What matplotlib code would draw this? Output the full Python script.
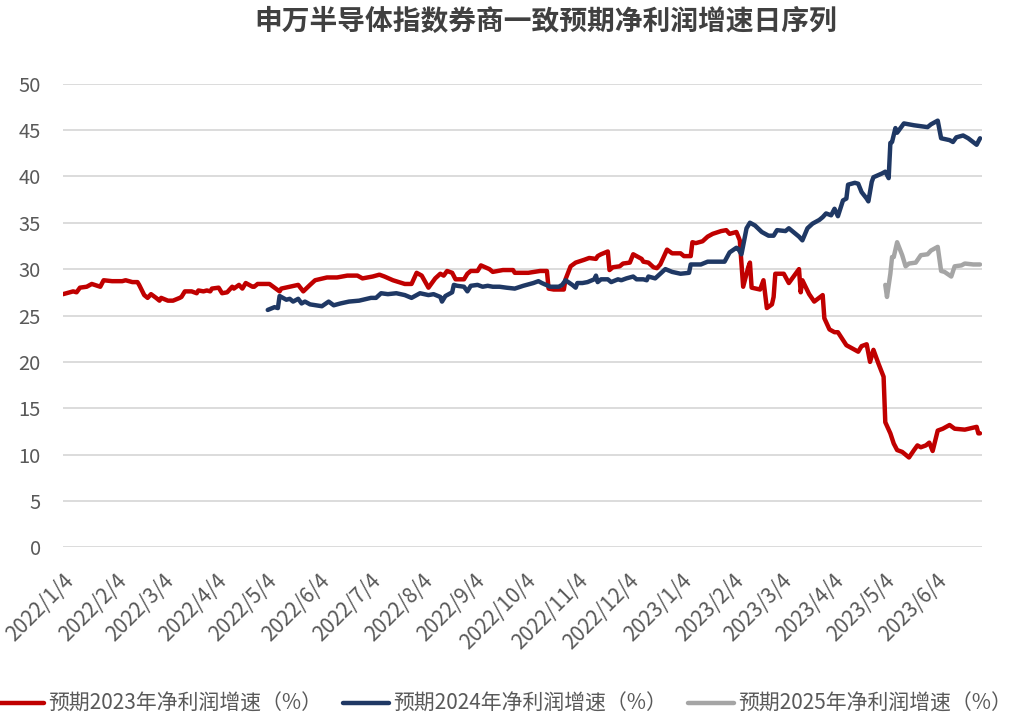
import pandas as pd
import matplotlib
matplotlib.use("Agg")
import matplotlib.pyplot as plt
import matplotlib.dates as mdates
from matplotlib.ticker import FuncFormatter, MultipleLocator

plt.rcParams['font.family'] = ['Noto Sans CJK SC', 'DejaVu Sans']

title = "申万半导体指数券商一致预期净利润增速日序列"
names = ["预期2023年净利润增速（%）", "预期2024年净利润增速（%）", "预期2025年净利润增速（%）"]

# 2023年预期
d23 = ["2022-01-04", "2022-01-10", "2022-01-12", "2022-01-14", "2022-01-18", "2022-01-21",
       "2022-01-26", "2022-01-28", "2022-02-02", "2022-02-08", "2022-02-10", "2022-02-14",
       "2022-02-17", "2022-02-18", "2022-02-21", "2022-02-23", "2022-02-25", "2022-02-28",
       "2022-03-02", "2022-03-03", "2022-03-07", "2022-03-10", "2022-03-14", "2022-03-15",
       "2022-03-17", "2022-03-21", "2022-03-24", "2022-03-25", "2022-03-28", "2022-03-30",
       "2022-04-01", "2022-04-02", "2022-04-06", "2022-04-08", "2022-04-11", "2022-04-14",
       "2022-04-15", "2022-04-18", "2022-04-20", "2022-04-22", "2022-04-26", "2022-04-27",
       "2022-04-29", "2022-05-06", "2022-05-09", "2022-05-12", "2022-05-13", "2022-05-18",
       "2022-05-23", "2022-05-26", "2022-05-30", "2022-06-02", "2022-06-09", "2022-06-15",
       "2022-06-21", "2022-06-27", "2022-06-30", "2022-07-06", "2022-07-10", "2022-07-13",
       "2022-07-18", "2022-07-25", "2022-07-29", "2022-08-01", "2022-08-04", "2022-08-08",
       "2022-08-12", "2022-08-15", "2022-08-17", "2022-08-19", "2022-08-22", "2022-08-24",
       "2022-08-29", "2022-08-31", "2022-09-02", "2022-09-06", "2022-09-08", "2022-09-13",
       "2022-09-15", "2022-09-21", "2022-09-27", "2022-09-28", "2022-10-06", "2022-10-13",
       "2022-10-17", "2022-10-18", "2022-10-21", "2022-10-27", "2022-10-28", "2022-10-31",
       "2022-11-03", "2022-11-08", "2022-11-11", "2022-11-15", "2022-11-16", "2022-11-18",
       "2022-11-22", "2022-11-23", "2022-11-25", "2022-11-29", "2022-12-01", "2022-12-05",
       "2022-12-07", "2022-12-12", "2022-12-13", "2022-12-16", "2022-12-19", "2022-12-21",
       "2022-12-23", "2022-12-27", "2022-12-30", "2023-01-04", "2023-01-06", "2023-01-10",
       "2023-01-11", "2023-01-13", "2023-01-17", "2023-01-20", "2023-01-23", "2023-01-28",
       "2023-01-31", "2023-02-02", "2023-02-06", "2023-02-08", "2023-02-10", "2023-02-13",
       "2023-02-14", "2023-02-15", "2023-02-20", "2023-02-22", "2023-02-24", "2023-02-27",
       "2023-02-28", "2023-03-01", "2023-03-06", "2023-03-09", "2023-03-13", "2023-03-15",
       "2023-03-16", "2023-03-17", "2023-03-21", "2023-03-24", "2023-03-29", "2023-03-30",
       "2023-04-02", "2023-04-05", "2023-04-07", "2023-04-12", "2023-04-17", "2023-04-19",
       "2023-04-21", "2023-04-24", "2023-04-26", "2023-04-28", "2023-05-01", "2023-05-04",
       "2023-05-05", "2023-05-08", "2023-05-10", "2023-05-12", "2023-05-15", "2023-05-17",
       "2023-05-19", "2023-05-22", "2023-05-24", "2023-05-26", "2023-05-29", "2023-05-31",
       "2023-06-02", "2023-06-05", "2023-06-08", "2023-06-12", "2023-06-15", "2023-06-21",
       "2023-06-28", "2023-06-29", "2023-06-30"]
v23 = [27.3, 27.6, 27.5, 28.0, 28.1, 28.4,
       28.1, 28.8, 28.7, 28.7, 28.8, 28.6,
       28.6, 28.3, 27.2, 26.9, 27.3, 26.9,
       26.6, 26.9, 26.6, 26.6, 26.9, 27.0,
       27.6, 27.6, 27.4, 27.7, 27.6, 27.7,
       27.6, 27.9, 28.0, 27.4, 27.5, 28.1,
       27.9, 28.3, 27.9, 28.5, 28.1, 28.1,
       28.4, 28.4, 28.0, 27.6, 27.9, 28.1,
       28.3, 27.6, 28.3, 28.8, 29.1, 29.1,
       29.3, 29.3, 29.0, 29.2, 29.4, 29.2,
       28.8, 28.4, 28.4, 29.6, 29.3, 28.0,
       29.0, 29.5, 29.3, 29.8, 29.6, 28.9,
       28.9, 29.5, 29.8, 29.8, 30.4, 30.0,
       29.7, 29.9, 29.9, 29.6, 29.6, 29.8,
       29.8, 27.9, 27.8, 27.8, 28.9, 30.3,
       30.7, 31.0, 31.2, 31.1, 31.4, 31.6,
       31.9, 29.9, 30.2, 30.3, 30.6, 30.7,
       31.6, 31.1, 30.8, 30.7, 30.2, 30.1,
       30.5, 32.1, 31.7, 31.7, 31.4, 31.4,
       32.9, 32.8, 33.0, 33.5, 33.8, 34.1,
       34.2, 33.8, 34.0, 33.1, 28.1, 30.2,
       30.7, 28.0, 27.8, 28.8, 25.8, 26.2,
       27.0, 29.5, 29.5, 28.5, 29.5, 30.0,
       27.5, 28.8, 27.3, 26.5, 27.2, 24.7,
       23.5, 23.2, 23.2, 21.8, 21.3, 21.1,
       21.7, 21.9, 20.0, 21.3, 19.8, 18.4,
       13.5, 12.3, 11.2, 10.5, 10.3, 10.0,
       9.7, 10.5, 11.0, 10.8, 11.0, 11.3,
       10.4, 12.6, 12.8, 13.2, 12.8, 12.7,
       13.0, 12.3, 12.3]

# 2024年预期
d24 = ["2022-05-05", "2022-05-09", "2022-05-11", "2022-05-12", "2022-05-16", "2022-05-18",
       "2022-05-20", "2022-05-23", "2022-05-25", "2022-05-27", "2022-05-30", "2022-06-06",
       "2022-06-10", "2022-06-13", "2022-06-17", "2022-06-22", "2022-06-28", "2022-07-05",
       "2022-07-08", "2022-07-11", "2022-07-15", "2022-07-20", "2022-07-25", "2022-07-29",
       "2022-08-03", "2022-08-08", "2022-08-11", "2022-08-15", "2022-08-16", "2022-08-18",
       "2022-08-22", "2022-08-23", "2022-08-25", "2022-08-29", "2022-08-31", "2022-09-02",
       "2022-09-06", "2022-09-09", "2022-09-12", "2022-09-15", "2022-09-19", "2022-09-23",
       "2022-09-28", "2022-10-03", "2022-10-09", "2022-10-12", "2022-10-14", "2022-10-19",
       "2022-10-24", "2022-10-26", "2022-10-28", "2022-11-01", "2022-11-03", "2022-11-04",
       "2022-11-07", "2022-11-10", "2022-11-14", "2022-11-15", "2022-11-16", "2022-11-18",
       "2022-11-22", "2022-11-24", "2022-11-28", "2022-11-30", "2022-12-03", "2022-12-07",
       "2022-12-09", "2022-12-13", "2022-12-15", "2022-12-16", "2022-12-20", "2022-12-23",
       "2022-12-26", "2022-12-30", "2023-01-04", "2023-01-09", "2023-01-10", "2023-01-16",
       "2023-01-20", "2023-01-30", "2023-02-02", "2023-02-06", "2023-02-07", "2023-02-09",
       "2023-02-12", "2023-02-14", "2023-02-17", "2023-02-21", "2023-02-25", "2023-02-28",
       "2023-03-02", "2023-03-07", "2023-03-09", "2023-03-13", "2023-03-15", "2023-03-17",
       "2023-03-20", "2023-03-23", "2023-03-27", "2023-03-29", "2023-03-31", "2023-04-03",
       "2023-04-05", "2023-04-07", "2023-04-10", "2023-04-12", "2023-04-13", "2023-04-17",
       "2023-04-19", "2023-04-21", "2023-04-24", "2023-04-25", "2023-04-27", "2023-04-28",
       "2023-05-03", "2023-05-05", "2023-05-07", "2023-05-08", "2023-05-09", "2023-05-11",
       "2023-05-12", "2023-05-16", "2023-05-19", "2023-05-22", "2023-05-26", "2023-05-30",
       "2023-06-01", "2023-06-05", "2023-06-07", "2023-06-12", "2023-06-14", "2023-06-16",
       "2023-06-20", "2023-06-23", "2023-06-28", "2023-06-30"]
v24 = [25.6, 25.9, 25.8, 27.1, 26.7, 26.8,
       26.5, 26.8, 26.3, 26.5, 26.2, 26.0,
       26.5, 26.1, 26.3, 26.5, 26.6, 26.9,
       26.9, 27.4, 27.3, 27.4, 27.2, 26.9,
       27.4, 27.2, 27.3, 27.0, 26.5, 27.1,
       27.5, 28.3, 28.2, 28.1, 27.6, 28.2,
       28.3, 28.1, 28.2, 28.1, 28.1, 28.0,
       27.9, 28.2, 28.5, 28.7, 28.5, 28.1,
       28.1, 28.3, 28.8, 28.3, 28.0, 28.5,
       28.5, 28.6, 28.9, 29.3, 28.6, 28.9,
       28.9, 28.6, 28.9, 28.8, 29.0, 29.2,
       28.9, 28.9, 28.8, 29.2, 29.0, 29.5,
       30.0, 29.7, 29.5, 29.6, 30.5, 30.5,
       30.8, 30.8, 31.8, 32.3, 32.2, 31.6,
       34.4, 35.0, 34.7, 34.0, 33.6, 33.6,
       34.2, 34.1, 34.4, 33.8, 33.5, 33.1,
       34.4, 34.9, 35.3, 35.6, 36.0, 35.8,
       36.5, 35.7, 37.4, 37.6, 39.1, 39.3,
       39.2, 38.3, 37.6, 37.3, 39.4, 39.9,
       40.3, 40.5, 39.8, 43.6, 43.7, 45.2,
       44.7, 45.7, 45.6, 45.5, 45.4, 45.3,
       45.6, 46.0, 44.1, 43.9, 43.7, 44.2,
       44.4, 44.1, 43.4, 44.1]

# 2025年预期
d25 = ["2023-05-05", "2023-05-06", "2023-05-08", "2023-05-09", "2023-05-10", "2023-05-12",
       "2023-05-15", "2023-05-17", "2023-05-19", "2023-05-23", "2023-05-26", "2023-05-30",
       "2023-06-01", "2023-06-05", "2023-06-07", "2023-06-09", "2023-06-13", "2023-06-15",
       "2023-06-19", "2023-06-21", "2023-06-26", "2023-06-30"]
v25 = [28.3, 27.0, 29.5, 31.3, 31.3, 32.9,
       31.5, 30.3, 30.6, 30.7, 31.5, 31.6,
       32.0, 32.4, 29.8, 29.7, 29.2, 30.3,
       30.4, 30.6, 30.5, 30.5]

colors = ["#C00000", "#1F3864", "#A5A5A5"]
text_color = "#595959"

fig = plt.figure(figsize=(10.1, 7.2), dpi=100)
ax = fig.add_axes([0.0624, 0.2396, 0.9096, 0.6444])

for dates, vals, c, n in zip([d23, d24, d25], [v23, v24, v25], colors, names):
    ax.plot(pd.to_datetime(dates), vals, color=c, lw=3.2, label=n,
            solid_joinstyle="round", solid_capstyle="round")

ax.set_ylim(0, 50)
ax.yaxis.set_major_locator(MultipleLocator(5))
ax.set_xlim(pd.Timestamp("2022-01-04"), pd.Timestamp("2023-07-01"))
ax.xaxis.set_major_locator(mdates.MonthLocator(bymonthday=4))
ax.xaxis.set_major_formatter(FuncFormatter(
    lambda x, _: "{0.year}/{0.month}/{0.day}".format(mdates.num2date(x))))

ax.grid(axis="y", color="#D9D9D9", lw=1.3)
ax.set_axisbelow(True)
for s in ax.spines.values():
    s.set_visible(False)
ax.tick_params(axis="y", length=0, labelsize=14.5, labelcolor=text_color, pad=16)
ax.tick_params(axis="x", length=0, labelsize=15, labelcolor=text_color, pad=16)

for lab in ax.get_xticklabels():
    lab.set_rotation(45)
    lab.set_ha("right")
    lab.set_va("top")
    lab.set_rotation_mode("anchor")

fig.text(0.54, 0.969, title, ha="center", va="center", fontsize=20,
         fontweight="bold", color="#404040")

fig.legend(loc="center", bbox_to_anchor=(0.5, 0.022), ncol=3, frameon=False,
           fontsize=15, labelcolor=text_color, handlelength=2.2, handletextpad=0.2,
           columnspacing=1.0)

fig.savefig("out.png", dpi=100)
